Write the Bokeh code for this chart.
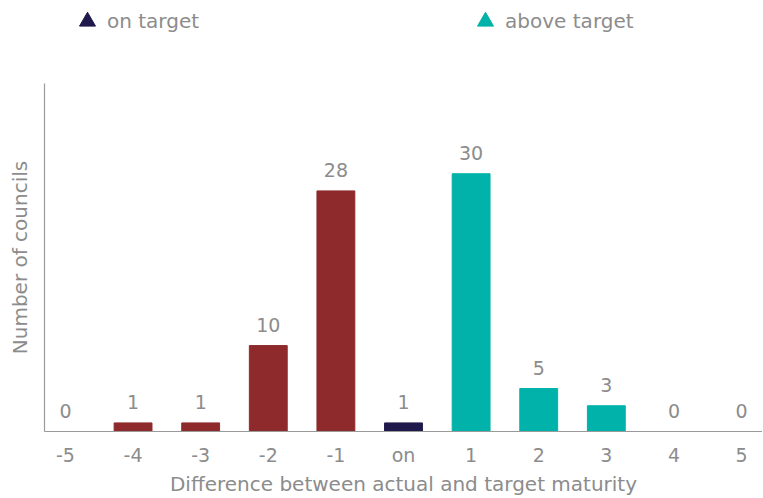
from bokeh.plotting import figure
from bokeh.layouts import column
from bokeh.models import Range1d, FixedTicker, ColumnDataSource, Legend, LegendItem
from bokeh.core.properties import value
from bokeh.embed import file_html
from bokeh.resources import INLINE

categories = ["-5", "-4", "-3", "-2", "-1", "on", "1", "2", "3", "4", "5"]
counts = [0, 1, 1, 10, 28, 1, 30, 5, 3, 0, 0]
groups = ["below", "below", "below", "below", "below", "on", "above", "above", "above", "above", "above"]
group_colors = {"below": "#8E2A2C", "on": "#1F1A4B", "above": "#00B2A9"}
legend_labels = ["on target", "above target"]
legend_colors = [group_colors["on"], group_colors["above"]]

FONT = "DejaVu Sans"
TEXT = "#8c8c8c"
FS_NUM = "19px"
FS_TITLE = "20px"
W = 762
LEG_H = 45
H = 498

xs = list(range(len(categories)))
src = ColumnDataSource(dict(
    x=xs, count=counts, label=[str(c) for c in counts],
    color=[group_colors[g] for g in groups],
))

# ---- legend strip (separate figure so the legend is not clipped) ----
lf = figure(width=W, height=LEG_H, output_backend="svg", toolbar_location=None,
            x_range=Range1d(0, 1), y_range=Range1d(0, 1),
            x_axis_location=None, y_axis_location=None,
            min_border_left=0, min_border_right=0, min_border_top=0, min_border_bottom=0)
lf.outline_line_color = None
lf.grid.visible = False
items = []
for lab, col in zip(legend_labels, legend_colors):
    # a point outside the visible range: only its legend swatch is shown
    r = lf.scatter(x=[-5], y=[-5], marker="triangle", color=col)
    items.append(LegendItem(label=lab, renderers=[r]))
legend = Legend(items=items, orientation="horizontal", location=(23, 2),
                glyph_width=40, glyph_height=44, label_standoff=0, spacing=266,
                padding=0, margin=0, border_line_color=None, background_fill_alpha=0,
                label_text_font=FONT, label_text_font_size=FS_TITLE, label_text_color=TEXT)
lf.add_layout(legend, "center")

# ---- main chart ----
p = figure(width=W, height=H - LEG_H, output_backend="svg", toolbar_location=None,
           x_range=Range1d(-0.31, len(categories) - 1 + 0.31), y_range=Range1d(0, 40.5),
           min_border_left=44, min_border_right=0, min_border_top=83 - LEG_H, min_border_bottom=67)
p.outline_line_color = None
p.grid.visible = False
p.background_fill_color = "white"

p.vbar(x="x", top="count", width=0.56, color="color", source=src)
p.text(x="x", y="count", text="label", source=src, text_align="center", text_baseline="alphabetic",
       y_offset=-21, text_font=value(FONT), text_font_size=FS_NUM, text_color=TEXT)

# x axis
xa = p.xaxis[0]
xa.ticker = FixedTicker(ticks=xs)
xa.major_label_overrides = {i: c for i, c in enumerate(categories)}
xa.major_tick_line_color = None
xa.major_tick_out = 0
xa.major_tick_in = 0
xa.minor_tick_line_color = None
xa.axis_line_color = "#9a9a9a"
xa.axis_line_width = 1.2
xa.major_label_standoff = 12
xa.major_label_text_font = FONT
xa.major_label_text_font_size = FS_NUM
xa.major_label_text_color = TEXT
xa.axis_label = "Difference between actual and target maturity"
xa.axis_label_text_font = FONT
xa.axis_label_text_font_size = FS_TITLE
xa.axis_label_text_font_style = "normal"
xa.axis_label_text_color = TEXT
xa.axis_label_standoff = 3

# y axis
ya = p.yaxis[0]
ya.ticker = FixedTicker(ticks=[])
ya.major_tick_line_color = None
ya.major_tick_out = 0
ya.major_tick_in = 0
ya.minor_tick_line_color = None
ya.major_label_text_font_size = "0px"
ya.major_label_standoff = 0
ya.axis_line_color = "#9a9a9a"
ya.axis_line_width = 1.2
ya.axis_label = "Number of councils"
ya.axis_label_text_font = FONT
ya.axis_label_text_font_size = FS_TITLE
ya.axis_label_text_font_style = "normal"
ya.axis_label_text_color = TEXT
ya.axis_label_standoff = 13

layout = column(lf, p, spacing=0)
open("out.html", "w").write(file_html(layout, INLINE))
